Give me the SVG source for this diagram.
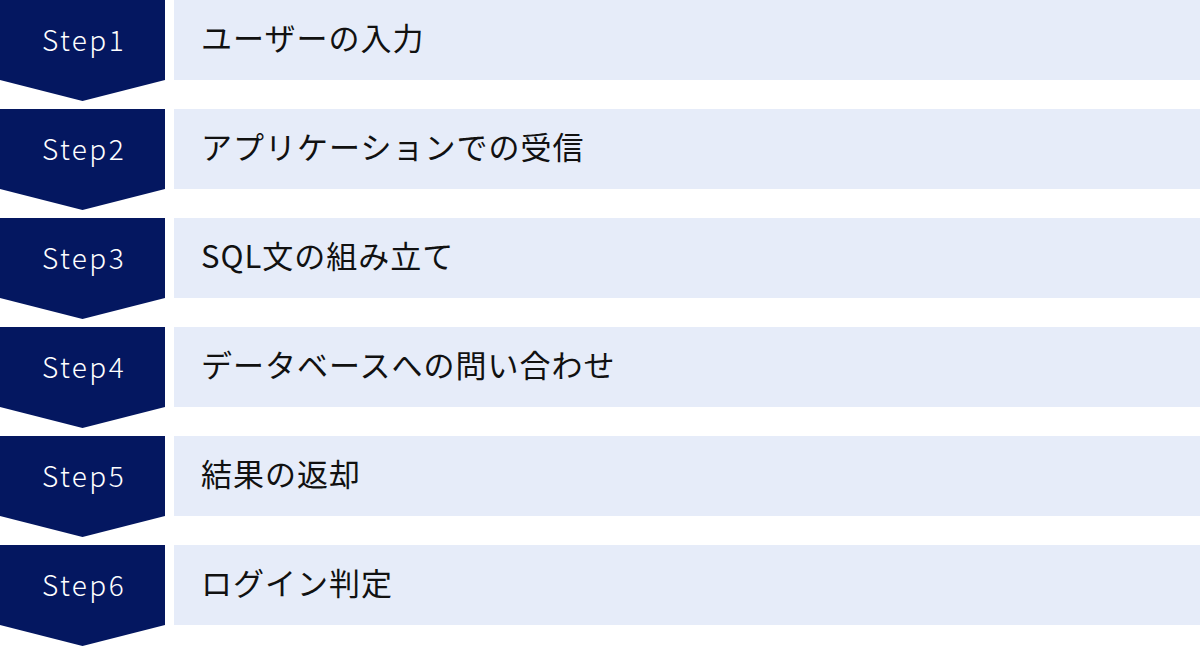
<svg xmlns="http://www.w3.org/2000/svg" width="1200" height="647" viewBox="0 0 1200 647">
<style>
.badge{fill:#041760}
.box{fill:#E6ECF9}
.st{font-family:"Noto Sans CJK JP","Noto Sans",sans-serif;font-size:28px;font-weight:300;fill:#FFFFFF;text-anchor:middle;letter-spacing:2.4px}
.lb{font-family:"Noto Sans CJK JP","Noto Sans",sans-serif;font-size:31px;fill:#111111;letter-spacing:1px}
</style>
<defs>
<polygon id="arrow" points="0,0 165,0 165,80 82.5,101 0,80"/>
</defs>
<g id="step1" transform="translate(0,0)">
<use href="#arrow" class="badge"/><rect class="box" x="174" y="0" width="1026" height="80"/>
<text class="st" x="84" y="51">Step1</text><text class="lb" x="201" y="50">ユーザーの入力</text>
</g>
<g id="step2" transform="translate(0,109)">
<use href="#arrow" class="badge"/><rect class="box" x="174" y="0" width="1026" height="80"/>
<text class="st" x="84" y="51">Step2</text><text class="lb" x="201" y="50">アプリケーションでの受信</text>
</g>
<g id="step3" transform="translate(0,218)">
<use href="#arrow" class="badge"/><rect class="box" x="174" y="0" width="1026" height="80"/>
<text class="st" x="84" y="51">Step3</text><text class="lb" x="201" y="50">SQL文の組み立て</text>
</g>
<g id="step4" transform="translate(0,327)">
<use href="#arrow" class="badge"/><rect class="box" x="174" y="0" width="1026" height="80"/>
<text class="st" x="84" y="51">Step4</text><text class="lb" x="201" y="50">データベースへの問い合わせ</text>
</g>
<g id="step5" transform="translate(0,436)">
<use href="#arrow" class="badge"/><rect class="box" x="174" y="0" width="1026" height="80"/>
<text class="st" x="84" y="51">Step5</text><text class="lb" x="201" y="50">結果の返却</text>
</g>
<g id="step6" transform="translate(0,545)">
<use href="#arrow" class="badge"/><rect class="box" x="174" y="0" width="1026" height="80"/>
<text class="st" x="84" y="51">Step6</text><text class="lb" x="201" y="50">ログイン判定</text>
</g>
<g id="connectors"></g>
</svg>
